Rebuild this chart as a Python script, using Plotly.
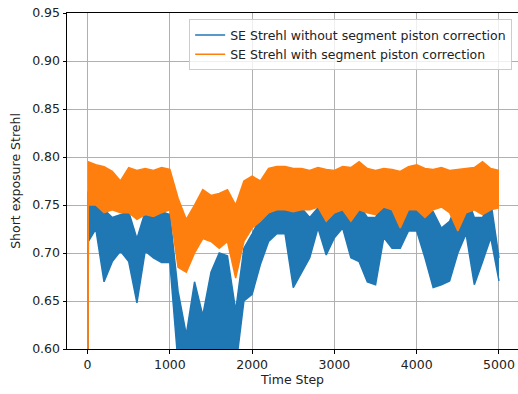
import plotly.graph_objects as go

# Time steps at which the envelopes were read (first point = initial value)
steps = [0, 10] + list(range(100, 5001, 100))

# SE Strehl without segment piston correction (blue): upper / lower envelope
blue_hi = [0.50, 0.764, 0.754, 0.745, 0.737, 0.740, 0.743, 0.715, 0.743, 0.750, 0.743,
           0.740, 0.660, 0.615, 0.670, 0.635, 0.680, 0.700, 0.697, 0.640, 0.705,
           0.720, 0.737, 0.754, 0.757, 0.750, 0.743, 0.747, 0.737, 0.747, 0.754,
           0.757, 0.761, 0.750, 0.750, 0.737, 0.737, 0.754, 0.761, 0.761, 0.764,
           0.754, 0.743, 0.743, 0.726, 0.733, 0.754, 0.761, 0.737, 0.737, 0.754,
           0.695]
blue_lo = [0.50, 0.712, 0.725, 0.670, 0.691, 0.702, 0.691, 0.648, 0.702, 0.695, 0.690,
           0.690, 0.585, 0.580, 0.590, 0.580, 0.600, 0.600, 0.590, 0.580, 0.650,
           0.657, 0.688, 0.712, 0.720, 0.720, 0.664, 0.680, 0.695, 0.726, 0.698,
           0.716, 0.726, 0.695, 0.691, 0.670, 0.667, 0.716, 0.705, 0.705, 0.723,
           0.723, 0.695, 0.664, 0.667, 0.671, 0.700, 0.720, 0.667, 0.691, 0.716,
           0.671]

# SE Strehl with segment piston correction (orange): upper / lower envelope
orange_hi = [0.50, 0.795, 0.792, 0.790, 0.785, 0.775, 0.789, 0.786, 0.788, 0.786, 0.789,
             0.787, 0.757, 0.735, 0.750, 0.766, 0.760, 0.762, 0.766, 0.750, 0.775,
             0.780, 0.775, 0.788, 0.790, 0.790, 0.788, 0.788, 0.786, 0.789, 0.787,
             0.786, 0.790, 0.789, 0.795, 0.788, 0.786, 0.788, 0.787, 0.785, 0.790,
             0.792, 0.788, 0.787, 0.789, 0.786, 0.787, 0.788, 0.789, 0.795, 0.788,
             0.786]
orange_lo = [0.50, 0.750, 0.750, 0.742, 0.745, 0.742, 0.742, 0.735, 0.740, 0.738, 0.742,
             0.745, 0.685, 0.680, 0.700, 0.715, 0.712, 0.705, 0.712, 0.674, 0.712,
             0.726, 0.733, 0.742, 0.745, 0.745, 0.743, 0.745, 0.745, 0.748, 0.733,
             0.742, 0.745, 0.733, 0.745, 0.742, 0.740, 0.748, 0.745, 0.726, 0.745,
             0.745, 0.737, 0.745, 0.748, 0.742, 0.723, 0.742, 0.745, 0.740, 0.745,
             0.747]

names = ["SE Strehl without segment piston correction",
         "SE Strehl with segment piston correction"]
colors = ["#1f77b4", "#ff7f0e"]

x_ticks = [0, 1000, 2000, 3000, 4000, 5000]
y_ticks = [0.60, 0.65, 0.70, 0.75, 0.80, 0.85, 0.90, 0.95]

fig = go.Figure()
for name, color, hi, lo in [(names[0], colors[0], blue_hi, blue_lo),
                            (names[1], colors[1], orange_hi, orange_lo)]:
    fig.add_trace(go.Scatter(x=steps, y=lo, mode="lines", line=dict(color=color, width=1.5),
                             showlegend=False, hoverinfo="skip"))
    fig.add_trace(go.Scatter(x=steps, y=hi, mode="lines", line=dict(color=color, width=1.5),
                             fill="tonexty", fillcolor=color, showlegend=False, hoverinfo="skip"))
for name, color in zip(names, colors):
    fig.add_trace(go.Scatter(x=[None], y=[None], mode="lines", name=name,
                             line=dict(color=color, width=1.5)))

axis_common = dict(showgrid=True, gridcolor="#b0b0b0", gridwidth=0.8,
                   showline=True, linecolor="black", linewidth=1,
                   ticks="outside", ticklen=3.5, tickwidth=0.8, tickcolor="black",
                   zeroline=False, automargin=False, tickfont=dict(size=12.5, color="#222"))

fig.update_layout(
    width=518, height=394,
    margin=dict(l=67, r=0, t=13, b=45),
    paper_bgcolor="white", plot_bgcolor="white",
    font=dict(family="DejaVu Sans", size=12.5, color="#222"),
    xaxis=dict(range=[-250, 5231], tickvals=x_ticks, ticktext=[str(v) for v in x_ticks],
               mirror=True, title=dict(text="Time Step", font=dict(size=12.5), standoff=4),
               **axis_common),
    yaxis=dict(range=[0.60, 0.95], tickvals=y_ticks, ticktext=[f"{v:.2f}" for v in y_ticks],
               title=dict(text="Short exposure Strehl", font=dict(size=12.5), standoff=8),
               **axis_common),
    legend=dict(x=0.987, y=0.981, xanchor="right", yanchor="top", traceorder="normal",
                bgcolor="rgba(255,255,255,0.8)", bordercolor="#cccccc", borderwidth=1,
                font=dict(size=12.5), tracegroupgap=0),
)

fig.write_html("out.html", config={"displayModeBar": False},
               post_script="document.body.style.margin='0';document.body.style.overflow='hidden';")
